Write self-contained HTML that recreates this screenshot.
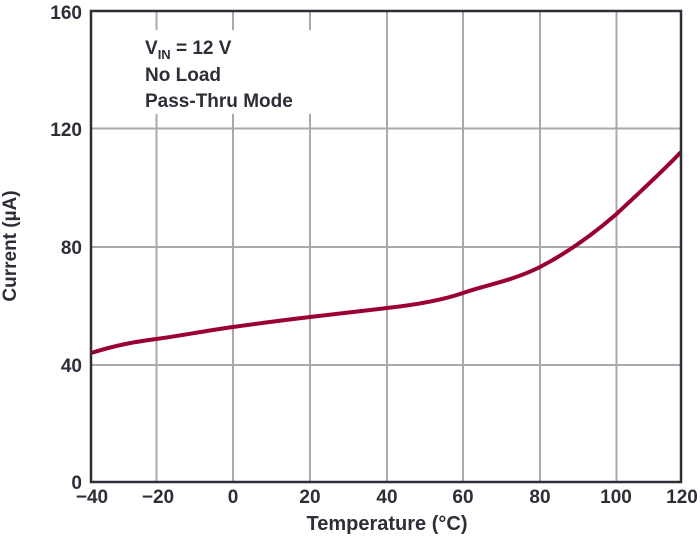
<!DOCTYPE html>
<html><head><meta charset="utf-8"><style>
html,body{margin:0;padding:0;background:#fff;}
svg text{font-family:"Liberation Sans",Arial,sans-serif;font-weight:bold;fill:#2e2e38;}
</style></head><body>
<svg width="700" height="536" viewBox="0 0 700 536" xmlns="http://www.w3.org/2000/svg">
<g stroke="#a8a8ae" stroke-width="2">
<line x1="156.5" y1="11" x2="156.5" y2="482"/>
<line x1="233" y1="11" x2="233" y2="482"/>
<line x1="310" y1="11" x2="310" y2="482"/>
<line x1="387" y1="11" x2="387" y2="482"/>
<line x1="463" y1="11" x2="463" y2="482"/>
<line x1="540" y1="11" x2="540" y2="482"/>
<line x1="616.5" y1="11" x2="616.5" y2="482"/>
<line x1="91" y1="128.5" x2="681" y2="128.5"/>
<line x1="91" y1="247" x2="681" y2="247"/>
<line x1="91" y1="365" x2="681" y2="365"/>
</g>
<rect x="136" y="30" width="180" height="84" fill="#fff"/>
<path d="M91,353 C120,344 135,342 156.5,339 S205,331 233,327 S285,320 310,317 S360,311 387,308 S440,301 463,293 S512,281 540,267 C565,254 590,237 616.5,214 C640,192 662,172 681,152" fill="none" stroke="#9b0032" stroke-width="4"/>
<rect x="91" y="11" width="590" height="471" fill="none" stroke="#2e2e38" stroke-width="2.5"/>
<g font-size="19" text-anchor="end">
<text x="82" y="19">160</text>
<text x="82" y="136">120</text>
<text x="82" y="254">80</text>
<text x="82" y="372">40</text>
<text x="82" y="489">0</text>
</g>
<g font-size="19" text-anchor="middle">
<text x="92" y="503">−40</text>
<text x="158" y="503">−20</text>
<text x="233" y="503">0</text>
<text x="310" y="503">20</text>
<text x="387" y="503">40</text>
<text x="463" y="503">60</text>
<text x="540" y="503">80</text>
<text x="616" y="503">100</text>
<text x="682" y="503">120</text>
</g>
<text x="387" y="530" font-size="20" text-anchor="middle">Temperature (°C)</text>
<text transform="translate(16,246) rotate(-90)" font-size="19" text-anchor="middle">Current (µA)</text>
<g font-size="19">
<text x="145" y="54">V<tspan font-size="13" dy="5">IN</tspan><tspan dy="-5"> = 12 V</tspan></text>
<text x="145" y="81">No Load</text>
<text x="145" y="107">Pass-Thru Mode</text>
</g>
</svg>
</body></html>
